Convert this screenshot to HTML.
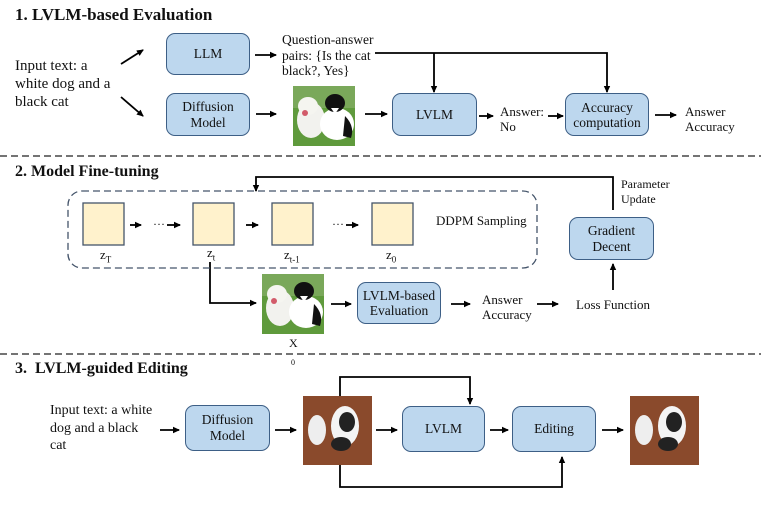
<!DOCTYPE html>
<html><head><meta charset="utf-8"><style>
body{margin:0;background:#fff;width:761px;height:509px;overflow:hidden;position:relative;font-family:"Liberation Serif",serif;color:#111}
.t{position:absolute;white-space:nowrap;line-height:1}
.h{font-weight:bold;font-size:17px}
.b{position:absolute;box-sizing:border-box;background:#bdd7ee;border:1.3px solid #3d5f86;border-radius:9px;display:flex;align-items:center;justify-content:center;text-align:center;font-size:13.5px;line-height:16px}
svg{position:absolute;left:0;top:0}
</style></head><body>
<svg width="761" height="509">
<defs><marker id="a" markerWidth="8" markerHeight="8" refX="6" refY="4" orient="auto" markerUnits="userSpaceOnUse"><path d="M0,0.8 L7,4 L0,7.2 z" fill="#000"/></marker>
<g id="dogcat">
<rect width="62" height="60" fill="#5f9a3c"/><rect width="62" height="22" fill="#7aa85a"/>
<ellipse cx="18" cy="34" rx="14" ry="18" fill="#f2f2ee"/><ellipse cx="15" cy="20" rx="10" ry="9" fill="#f5f5f0"/>
<ellipse cx="12" cy="27" rx="3" ry="3" fill="#d25b6a"/>
<ellipse cx="44" cy="38" rx="17" ry="16" fill="#fff"/><ellipse cx="42" cy="17" rx="10" ry="9" fill="#111"/>
<path d="M38,22 L46,22 L42,28z" fill="#fff"/><path d="M52,30 Q62,40 58,52 L50,50z" fill="#111"/>
</g>
<g id="top">
<rect width="69" height="69" fill="#8a4a2c"/><ellipse cx="14" cy="34" rx="9" ry="15" fill="#eee"/><ellipse cx="42" cy="30" rx="14" ry="20" fill="#f4f4f4"/><ellipse cx="44" cy="26" rx="8" ry="10" fill="#222"/><ellipse cx="38" cy="48" rx="10" ry="7" fill="#222"/>
</g>
</defs>
<g stroke="#000" stroke-width="1.8" fill="none">
<line x1="121" y1="64" x2="143" y2="50" marker-end="url(#a)"/>
<line x1="121" y1="97" x2="143" y2="116" marker-end="url(#a)"/>
<line x1="255" y1="55" x2="276" y2="55" marker-end="url(#a)"/>
<line x1="256" y1="114" x2="276" y2="114" marker-end="url(#a)"/>
<line x1="365" y1="114" x2="387" y2="114" marker-end="url(#a)"/>
<line x1="479" y1="116" x2="493" y2="116" marker-end="url(#a)"/>
<line x1="548" y1="116" x2="563" y2="116" marker-end="url(#a)"/>
<line x1="655" y1="115" x2="676" y2="115" marker-end="url(#a)"/>
<polyline points="375,53 607,53 607,92" marker-end="url(#a)"/>
<line x1="434" y1="53" x2="434" y2="92" marker-end="url(#a)"/>
<polyline points="613,210 613,177 256,177 256,191" marker-end="url(#a)"/>
<line x1="613" y1="290" x2="613" y2="264" marker-end="url(#a)"/>
<line x1="537" y1="304" x2="558" y2="304" marker-end="url(#a)"/>
<line x1="451" y1="304" x2="470" y2="304" marker-end="url(#a)"/>
<line x1="331" y1="304" x2="351" y2="304" marker-end="url(#a)"/>
<polyline points="210,262 210,303 256,303" marker-end="url(#a)"/>
<line x1="130" y1="225" x2="141" y2="225" marker-end="url(#a)"/>
<line x1="167" y1="225" x2="180" y2="225" marker-end="url(#a)"/>
<line x1="246" y1="225" x2="258" y2="225" marker-end="url(#a)"/>
<line x1="346" y1="225" x2="358" y2="225" marker-end="url(#a)"/>
<line x1="160" y1="430" x2="179" y2="430" marker-end="url(#a)"/>
<line x1="275" y1="430" x2="296" y2="430" marker-end="url(#a)"/>
<line x1="376" y1="430" x2="397" y2="430" marker-end="url(#a)"/>
<line x1="490" y1="430" x2="508" y2="430" marker-end="url(#a)"/>
<line x1="602" y1="430" x2="623" y2="430" marker-end="url(#a)"/>
<polyline points="340,396 340,377 470,377 470,404" marker-end="url(#a)"/>
<polyline points="340,465 340,487 562,487 562,457" marker-end="url(#a)"/>
</g>
<g stroke="#222" stroke-width="1.2" stroke-dasharray="7,4">
<line x1="0" y1="156" x2="761" y2="156"/><line x1="0" y1="354" x2="761" y2="354"/>
</g>
<rect x="68" y="191" width="469" height="77" rx="14" fill="none" stroke="#44546a" stroke-width="1.3" stroke-dasharray="7,4"/>
<g fill="#fff2cc" stroke="#44546a" stroke-width="1.3">
<rect x="83" y="203" width="41" height="42"/><rect x="193" y="203" width="41" height="42"/><rect x="272" y="203" width="41" height="42"/><rect x="372" y="203" width="41" height="42"/>
</g>
<use href="#dogcat" x="293" y="86"/>
<use href="#dogcat" x="262" y="274"/>
<use href="#top" x="303" y="396"/>
<use href="#top" x="630" y="396"/>
</svg>
<div class="t h" style="left:15px;top:6px">1. LVLM-based Evaluation</div>
<div class="t" style="left:15px;top:57px;font-size:15px;line-height:18px">Input text: a<br>white dog and a<br>black cat</div>
<div class="b" style="left:166px;top:33px;width:84px;height:42px">LLM</div>
<div class="b" style="left:166px;top:93px;width:84px;height:43px">Diffusion<br>Model</div>
<div class="t" style="left:282px;top:32px;font-size:13.5px;line-height:15.5px">Question-answer<br>pairs: {Is the cat<br>black?, Yes}</div>
<div class="b" style="left:392px;top:93px;width:85px;height:43px">LVLM</div>
<div class="t" style="left:500px;top:104px;font-size:13px;line-height:15px">Answer:<br>No</div>
<div class="b" style="left:565px;top:93px;width:84px;height:43px;line-height:15px">Accuracy<br>computation</div>
<div class="t" style="left:685px;top:104px;font-size:13px;line-height:15px">Answer<br>Accuracy</div>

<div class="t h" style="left:15px;top:164px;font-size:16px">2. Model Fine-tuning</div>
<div class="t" style="left:153px;top:218px;font-size:12px">···</div>
<div class="t" style="left:332px;top:218px;font-size:12px">···</div>
<div class="t" style="left:100px;top:248px;font-size:13px">z<sub style="font-size:9px">T</sub></div>
<div class="t" style="left:207px;top:246px;font-size:13px">z<sub style="font-size:9px">t</sub></div>
<div class="t" style="left:284px;top:248px;font-size:13px">z<sub style="font-size:9px">t-1</sub></div>
<div class="t" style="left:386px;top:248px;font-size:13px">z<sub style="font-size:9px">0</sub></div>
<div class="t" style="left:436px;top:214px;font-size:13px">DDPM Sampling</div>
<div class="t" style="left:621px;top:177px;font-size:12px;line-height:15px">Parameter<br>Update</div>
<div class="b" style="left:569px;top:217px;width:85px;height:43px">Gradient<br>Decent</div>
<div class="b" style="left:357px;top:282px;width:84px;height:42px;line-height:15px">LVLM-based<br>Evaluation</div>
<div class="t" style="left:482px;top:292px;font-size:13px;line-height:15px">Answer<br>Accuracy</div>
<div class="t" style="left:576px;top:298px;font-size:13px">Loss Function</div>
<div class="t" style="left:289px;top:337px;font-size:12px">X</div>
<div class="t" style="left:291px;top:359px;font-size:8px">0</div>

<div class="t h" style="left:15px;top:361px;font-size:16px">3.&nbsp; LVLM-guided Editing</div>
<div class="t" style="left:50px;top:402px;font-size:14px;line-height:17.5px">Input text: a white<br>dog and a black<br>cat</div>
<div class="b" style="left:185px;top:405px;width:85px;height:46px">Diffusion<br>Model</div>
<div class="b" style="left:402px;top:406px;width:83px;height:46px">LVLM</div>
<div class="b" style="left:512px;top:406px;width:84px;height:46px">Editing</div>
</body></html>
